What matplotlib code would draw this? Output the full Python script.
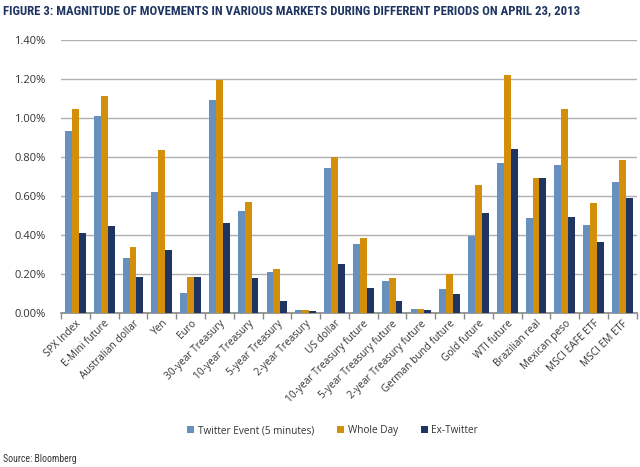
import matplotlib
matplotlib.use("Agg")
import matplotlib.pyplot as plt
import numpy as np
from matplotlib.ticker import FuncFormatter, FixedLocator
from matplotlib import font_manager

categories = ["SPX Index", "E-Mini future", "Australian dollar", "Yen", "Euro",
              "30-year Treasury", "10-year Treasury", "5-year Treasury", "2-year Treasury",
              "US dollar", "10-year Treasury future", "5-year Treasury future",
              "2-year Treasury future", "German bund future", "Gold future", "WTI future",
              "Brazilian real", "Mexican peso", "MSCI EAFE ETF", "MSCI EM ETF"]
twitter_event = [0.932, 1.009, 0.280, 0.617, 0.099, 1.089, 0.523, 0.209, 0.014, 0.739,
                 0.351, 0.161, 0.019, 0.121, 0.395, 0.768, 0.484, 0.757, 0.450, 0.669]
whole_day = [1.046, 1.110, 0.339, 0.833, 0.183, 1.195, 0.566, 0.224, 0.014, 0.797,
             0.383, 0.180, 0.019, 0.197, 0.655, 1.219, 0.692, 1.043, 0.562, 0.781]
ex_twitter = [0.407, 0.443, 0.183, 0.320, 0.183, 0.462, 0.180, 0.060, 0.007, 0.251,
              0.127, 0.062, 0.012, 0.094, 0.513, 0.838, 0.692, 0.491, 0.363, 0.590]
series_names = ["Twitter Event (5 minutes)", "Whole Day", "Ex-Twitter"]
yticks = [0.0, 0.2, 0.4, 0.6, 0.8, 1.0, 1.2, 1.4]
title = "FIGURE 3: MAGNITUDE OF MOVEMENTS IN VARIOUS MARKETS DURING DIFFERENT PERIODS ON APRIL 23, 2013"

colors = ["#6790BE", "#D48F0A", "#1F3561"]

plt.rcParams['font.family'] = ['Open Sans', 'DejaVu Sans']

installed = {f.name for f in font_manager.fontManager.ttflist}
narrow = [f for f in ['Liberation Sans Narrow', 'Roboto Condensed', 'Open Sans Condensed',
                      'DejaVu Sans Condensed'] if f in installed]
title_family = narrow[:1] + ['Roboto', 'DejaVu Sans']

fig = plt.figure(figsize=(6.4, 4.67), dpi=100)
ax = fig.add_axes([0.0953, 0.3304, 0.8997, 0.585])

n = len(categories)
x = np.arange(n)
w = 0.24
for i, (vals, name) in enumerate(zip([twitter_event, whole_day, ex_twitter], series_names)):
    ax.bar(x + (i - 1) * w, vals, width=w, color=colors[i], label=name, zorder=3)

ax.set_xlim(-0.5, n - 0.5)
ax.set_ylim(0, 1.4)
ax.set_yticks(yticks)
ax.yaxis.set_major_formatter(FuncFormatter(lambda v, p: f"{v:.2f}%"))
ax.yaxis.grid(True, color="#B0B0B0", linewidth=1.0, zorder=0)
ax.tick_params(axis='y', length=0, labelsize=8, colors="#333333", pad=11)

ax.set_xticks(x)
ax.set_xticklabels(categories, rotation=45, ha='right', rotation_mode='anchor',
                   fontsize=7.3, color="#333333")
ax.tick_params(axis='x', which='major', length=0, pad=4)
ax.xaxis.set_minor_locator(FixedLocator(np.arange(-0.5, n, 1.0)))
ax.tick_params(axis='x', which='minor', length=4, color="#888888", width=1)

for s in ['top', 'right', 'left']:
    ax.spines[s].set_visible(False)
ax.spines['bottom'].set_color("#888888")
ax.spines['bottom'].set_linewidth(1.2)

leg = fig.legend(loc='center', bbox_to_anchor=(0.52, 0.078), ncol=3, frameon=False,
                 fontsize=7.2, handlelength=0.7, handleheight=0.7, handletextpad=0.35,
                 columnspacing=2.3)
for t in leg.get_texts():
    t.set_color("#333333")

tt = fig.text(0.005, 0.978, title, fontsize=8.3, fontweight='bold', color="#1F3561",
              ha='left', va='center', family=title_family)
fig.canvas.draw()
r = fig.canvas.get_renderer()
target = 572.0
width = tt.get_window_extent(r).width
tt.set_fontsize(8.3 * target / width)

fig.text(0.005, 0.018, "Source: Bloomberg", fontsize=7.0, color="#333333", ha='left', va='center',
         family=title_family)

fig.savefig("out.png", dpi=100)
